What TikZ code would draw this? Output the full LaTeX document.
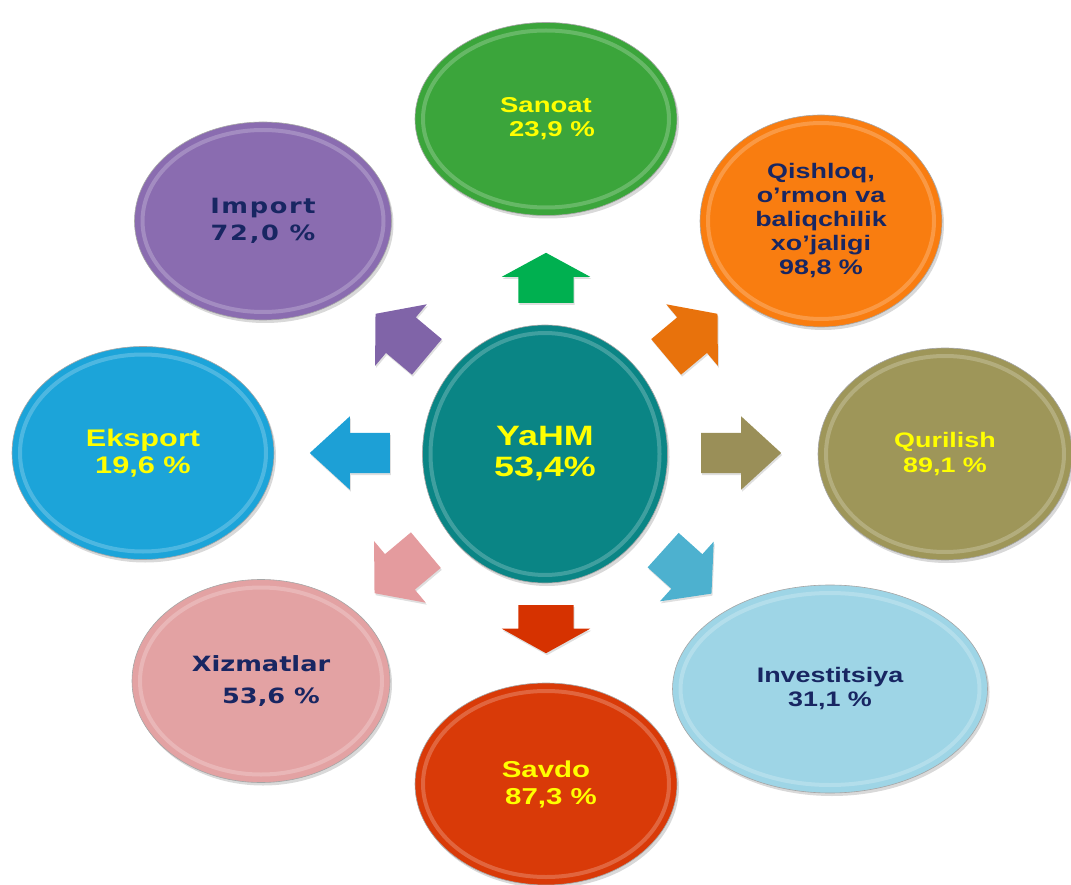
\documentclass[tikz,border=0pt]{standalone}
\usepackage{fontspec}
\usepackage{tikz}
\usetikzlibrary{shapes.geometric,shapes.arrows,shadows,calc}
\newfontfamily\arialw{Liberation Sans}[FakeStretch=1.28]
\newfontfamily\verdw{DejaVu Sans}[FakeStretch=1.22]
\newfontfamily\verdsp{DejaVu Sans}[FakeStretch=1.22, LetterSpace=8]
\newcommand\fsz[2]{\fontsize{#1}{#2}\selectfont\bfseries}
\definecolor{txtyel}{RGB}{255,255,0}
\definecolor{txtnav}{RGB}{24,38,98}
\definecolor{cTeal}{RGB}{10,133,133}
\definecolor{cGreen}{RGB}{59,165,59}
\definecolor{cOrange}{RGB}{249,125,16}
\definecolor{cOlive}{RGB}{158,150,89}
\definecolor{cLblue}{RGB}{158,213,230}
\definecolor{cRed}{RGB}{217,58,8}
\definecolor{cPink}{RGB}{227,162,163}
\definecolor{cBlue}{RGB}{28,164,217}
\definecolor{cPurple}{RGB}{138,108,176}
\definecolor{aGreen}{RGB}{0,176,80}
\definecolor{aOrange}{RGB}{232,114,12}
\definecolor{aOlive}{RGB}{154,143,88}
\definecolor{aLblue}{RGB}{77,177,207}
\definecolor{aRed}{RGB}{214,50,0}
\definecolor{aPink}{RGB}{228,155,158}
\definecolor{aBlue}{RGB}{29,160,214}
\definecolor{aPurple}{RGB}{128,100,168}

\begin{document}
\begin{tikzpicture}[x=1pt, y=-1pt]
  \tikzstyle{bubble} = [ellipse, inner sep=0, align=center, draw=black!35, line width=0.6,
                        drop shadow={opacity=.3, shadow xshift=2pt, shadow yshift=-3pt},
                        path picture={\draw[white, opacity=.22, line width=4pt]
                          let \p1=(path picture bounding box.north east),
                              \p2=(path picture bounding box.center)
                          in (\p2) ellipse [x radius=\x1-\x2-8pt, y radius=\y1-\y2-8pt];}]
  \tikzstyle{blk}    = [single arrow, inner xsep=0, anchor=tail, draw=none,
                        drop shadow={opacity=.25, shadow xshift=1pt, shadow yshift=-2pt}]
  \tikzstyle{yel}    = [text=txtyel]
  \tikzstyle{nav}    = [text=txtnav]

  \useasboundingbox (0,0) rectangle (1071,885);

  % ellipses
  \node[bubble, yel, fill=cTeal,   minimum width=245, minimum height=258, font=\arialw\fsz{28}{31}] (yahm)    at (545,454) {YaHM\\53,4\%};
  \node[bubble, yel, fill=cGreen,  minimum width=262, minimum height=193, font=\arialw\fsz{21.5}{24}] (sanoat) at (546,119) {Sanoat\\\hspace*{12pt}23,9 \%};
  \node[bubble, nav, fill=cOrange, minimum width=242, minimum height=212, font=\arialw\fsz{21}{24}] (qishloq)  at (821,221) {Qishloq,\\o’rmon va\\baliqchilik\\xo’jaligi\\98,8 \%};
  \node[bubble, yel, fill=cOlive,  minimum width=254, minimum height=212, font=\arialw\fsz{21}{25}] (qurilish) at (945,454) {Qurilish\\89,1 \%};
  \node[bubble, nav, fill=cLblue,  minimum width=315, minimum height=208, font=\arialw\fsz{21}{24}] (invest)   at (830,689) {Investitsiya\\31,1 \%};
  \node[bubble, yel, fill=cRed,    minimum width=262, minimum height=202, font=\arialw\fsz{23}{27}] (savdo)    at (546,784) {Savdo\\\hspace*{10pt}87,3 \%};
  \node[bubble, nav, fill=cPink,   minimum width=258, minimum height=203, font=\verdw\fsz{21}{32}] (xizmat)   at (261,681) {Xizmatlar\\\hspace*{20pt}53,6 \%};
  \node[bubble, yel, fill=cBlue,   minimum width=262, minimum height=213, font=\arialw\fsz{24}{27}] (eksport)  at (143,453) {Eksport\\19,6 \%};
  \node[bubble, nav, fill=cPurple, minimum width=257, minimum height=198, font=\verdsp\fsz{21}{27}] (import)  at (263,221) {Import\\72,0 \%};

  % block arrows
  \node[blk, fill=aGreen,  minimum height=50, inner ysep=27.5, single arrow head extend=16.5, single arrow tip angle=123, rotate=90]  (asanoat)   at (546,303) {};
  \node[blk, fill=aRed,    minimum height=48, inner ysep=27.5, single arrow head extend=16.5, single arrow tip angle=122, rotate=270] (asavdo)    at (546,605) {};
  \node[blk, fill=aBlue,   minimum height=80, inner ysep=20,   single arrow head extend=16.5, single arrow tip angle=85,  rotate=180] (aeksport)  at (390,453) {};
  \node[blk, fill=aOlive,  minimum height=80, inner ysep=20,   single arrow head extend=16.5, single arrow tip angle=85]             (aqurilish) at (701,453) {};
  \node[blk, fill=aOrange, minimum height=67, inner ysep=23,   single arrow head extend=17, single arrow tip angle=101, rotate=40]   (aqishloq)  at (666,357) {};
  \node[blk, fill=aPurple, minimum height=67, inner ysep=23,   single arrow head extend=17, single arrow tip angle=101, rotate=140]  (aimport)   at (427,357) {};
  \node[blk, fill=aPink,   minimum height=67, inner ysep=23,   single arrow head extend=17, single arrow tip angle=101, rotate=220]  (axizmat)   at (426,550) {};
  \node[blk, fill=aLblue,  minimum height=65, inner ysep=23,   single arrow head extend=17, single arrow tip angle=101, rotate=318]  (ainvest)   at (663,550) {};
\end{tikzpicture}
\end{document}
